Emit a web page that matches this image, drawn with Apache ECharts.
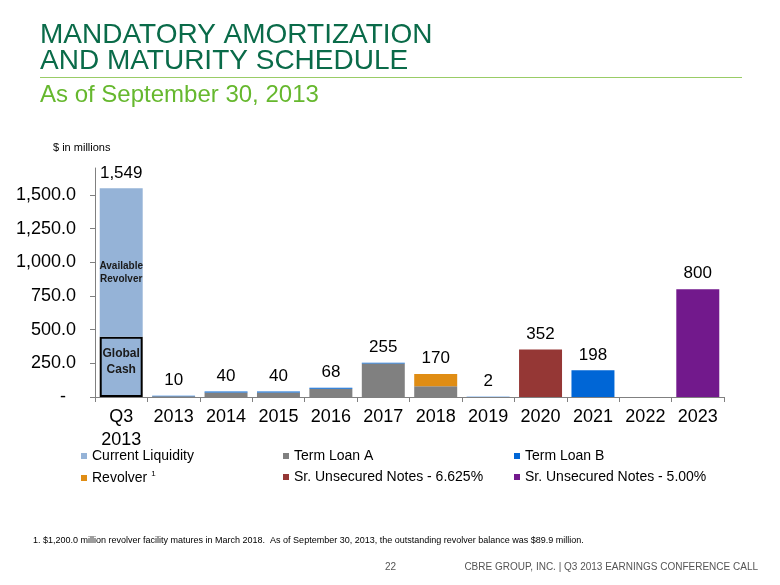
<!DOCTYPE html>
<html>
<head>
<meta charset="utf-8">
<script src="https://cdn.jsdelivr.net/npm/echarts@6/dist/echarts.min.js"></script>
<style>
html,body{margin:0;padding:0;background:#fff;}
#chart{width:780px;height:585px;}
</style>
</head>
<body>
<div id="chart"></div>
<script>
var categories = ['Q3\n2013','2013','2014','2015','2016','2017','2018','2019','2020','2021','2022','2023'];
var globalCash = [447,0,0,0,0,0,0,0,0,0,0,0];
var availableRevolver = [1102,0,0,0,0,0,0,0,0,0,0,0];
var termLoanA = [0,5,33,33,61,248,80,0,0,0,0,0];
var termLoanB = [0,5,7,7,7,7,0,2,0,198,0,0];
var revolver = [0,0,0,0,0,0,90,0,0,0,0,0];
var notes6625 = [0,0,0,0,0,0,0,0,352,0,0,0];
var notes500 = [0,0,0,0,0,0,0,0,0,0,0,800];
var yTicks = [0,250,500,750,1000,1250,1500];

var totals = categories.map(function(c,i){
  return globalCash[i]+availableRevolver[i]+termLoanA[i]+termLoanB[i]+revolver[i]+notes6625[i]+notes500[i];
});

var FONT = 'Liberation Sans, Arial, sans-serif';
var chart = echarts.init(document.getElementById('chart'));

function z(arr){ return arr.map(function(v){ return v === 0 ? null : v; }); }

var barCommon = {type:'bar', stack:'total', barCategoryGap:'18%', emphasis:{disabled:true}};

var legendDefs = [
  {name:'Current Liquidity', left:81, top:449},
  {name:'Term Loan A', left:283, top:449},
  {name:'Term Loan B', left:514, top:449},
  {name:'Revolver', left:81, top:470},
  {name:'Sr. Unsecured Notes - 6.625%', left:283, top:470},
  {name:'Sr. Unsecured Notes - 5.00%', left:514, top:470}
];

var option = {
  backgroundColor:'#fff',
  animation:false,
  textStyle:{fontFamily:FONT},
  grid:{left:95, right:56, top:168, bottom:188, containLabel:false},
  legend: legendDefs.map(function(d){
    return {
      data:[d.name], left:d.left, top:d.top, icon:'rect', itemWidth:6, itemHeight:6,
      padding:0, selectedMode:false,
      itemStyle:{borderWidth:0},
      textStyle:{fontFamily:FONT, fontSize:14, color:'#000',
        rich:{sup:{fontSize:8, verticalAlign:'top', padding:[0,0,8,0], fontFamily:FONT, color:'#000'}}},
      formatter: d.name === 'Revolver' ? function(n){ return n + ' {sup|1}'; } : undefined
    };
  }),
  xAxis:{
    type:'category', data:categories,
    axisLine:{lineStyle:{color:'#808080', width:1}},
    axisTick:{show:true, length:5, lineStyle:{color:'#808080'}},
    axisLabel:{fontFamily:FONT, fontSize:18, color:'#000', margin:9, lineHeight:23, interval:0}
  },
  yAxis:{
    type:'value', min:0, max:1700, interval:250,
    splitLine:{show:false},
    axisLine:{show:true, lineStyle:{color:'#808080'}},
    axisTick:{show:true, length:5, lineStyle:{color:'#808080'}, customValues:yTicks},
    axisLabel:{fontFamily:FONT, fontSize:18, color:'#000', margin:19, customValues:yTicks,
      formatter:function(v){ return v === 0 ? '-  ' : v.toLocaleString('en-US',{minimumFractionDigits:1, maximumFractionDigits:1}); }}
  },
  graphic:[
    {type:'text', left:40, top:21, style:{text:'MANDATORY AMORTIZATION', font:'28px '+FONT, fill:'#0A6B49'}},
    {type:'text', left:40, top:47, style:{text:'AND MATURITY SCHEDULE', font:'28px '+FONT, fill:'#0A6B49'}},
    {type:'rect', shape:{x:40, y:77, width:702, height:1}, style:{fill:'#99CC66'}},
    {type:'text', left:40, top:83, style:{text:'As of September 30, 2013', font:'24px '+FONT, fill:'#66B82E'}},
    {type:'text', left:53, top:142, style:{text:'$ in millions', font:'11px '+FONT, fill:'#000'}},
    {type:'text', left:33, top:536, style:{text:'1. $1,200.0 million revolver facility matures in March 2018.  As of September 30, 2013, the outstanding revolver balance was $89.9 million.', font:'9px "Liberation Sans Narrow", '+FONT, fill:'#000'}},
    {type:'text', left:385, top:562, style:{text:'22', font:'10px "Liberation Sans Narrow", '+FONT, fill:'#555'}},
    {type:'text', right:22, top:562, style:{text:'CBRE GROUP, INC. | Q3 2013 EARNINGS CONFERENCE CALL', font:'10px "Liberation Sans Narrow", '+FONT, fill:'#555'}}
  ],
  series:[
    Object.assign({}, barCommon, {
      name:'Current Liquidity', data:z(globalCash),
      itemStyle:{color:'#95B3D7', borderColor:'#000', borderWidth:2},
      label:{show:true, position:'inside', formatter:'Global\nCash', fontFamily:FONT, fontSize:12, fontWeight:'bold', color:'#1a1a1a', lineHeight:16, offset:[0,-5]}
    }),
    Object.assign({}, barCommon, {
      name:'Current Liquidity', data:z(availableRevolver),
      itemStyle:{color:'#95B3D7'},
      label:{show:true, position:'inside', formatter:'Available\nRevolver', fontFamily:FONT, fontSize:10, fontWeight:'bold', color:'#1a1a1a', lineHeight:13, offset:[0,10]}
    }),
    Object.assign({}, barCommon, {name:'Term Loan A', data:z(termLoanA), itemStyle:{color:'#808080'}}),
    Object.assign({}, barCommon, {name:'Term Loan B', data:z(termLoanB), itemStyle:{color:'#0066D6'}}),
    Object.assign({}, barCommon, {name:'Revolver', data:z(revolver), itemStyle:{color:'#E08D14'}}),
    Object.assign({}, barCommon, {name:'Sr. Unsecured Notes - 6.625%', data:z(notes6625), itemStyle:{color:'#953735'}}),
    Object.assign({}, barCommon, {name:'Sr. Unsecured Notes - 5.00%', data:z(notes500), itemStyle:{color:'#72198C'}}),
    Object.assign({}, barCommon, {
      name:'Total', data:totals.map(function(){ return 0; }),
      itemStyle:{color:'rgba(0,0,0,0)'},
      label:{show:true, position:'top', distance:7, fontFamily:FONT, fontSize:17, color:'#000',
        formatter:function(p){ var t = totals[p.dataIndex]; return t ? t.toLocaleString('en-US') : ''; }}
    })
  ]
};
chart.setOption(option);
</script>
</body>
</html>
